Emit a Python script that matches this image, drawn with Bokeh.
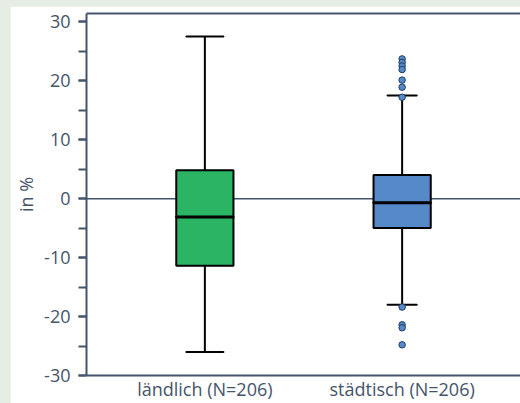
from bokeh.plotting import figure
from bokeh.models import Range1d, FactorRange, Span, LinearAxis, FixedTicker, ColumnDataSource, SingleIntervalTicker, PrintfTickFormatter
from bokeh.layouts import column
from bokeh.embed import file_html
from bokeh.resources import INLINE

# ---- data ----
categories = ["ländlich (N=206)", "städtisch (N=206)"]
q1 = [-11.4, -5.0]
median = [-3.1, -0.7]
q3 = [4.8, 4.0]
whisker_low = [-26.0, -18.0]
whisker_high = [27.5, 17.5]
outlier_cat = ["städtisch (N=206)"] * 11
outlier_val = [23.7, 23.1, 22.5, 21.9, 20.1, 18.9, 17.2, -18.4, -21.4, -21.9, -24.8]

# ---- styles ----
box_colors = ["#2bb463", "#5589c8"]
cap_widths = [0.19, 0.15]
BOX_W = 0.29
TXT = "#44546a"
FONT = "Open Sans"

p = figure(width=510, height=397, output_backend="svg", toolbar_location=None,
           x_range=FactorRange(factors=categories, range_padding=0.1),
           y_range=Range1d(-30, 31.4),
           min_border_left=76, min_border_right=0, min_border_top=7, min_border_bottom=27)
p.background_fill_color = "white"
p.border_fill_color = "white"
p.outline_line_color = None
p.grid.visible = False

src = ColumnDataSource(dict(cat=categories, q1=q1, med=median, q3=q3, lo=whisker_low, hi=whisker_high,
                            color=box_colors, capw=cap_widths))

p.add_layout(Span(location=0, dimension="width", line_color=TXT, line_width=1.5, level="underlay"))

p.segment(x0="cat", y0="q3", x1="cat", y1="hi", source=src, line_color="black", line_width=2)
p.segment(x0="cat", y0="lo", x1="cat", y1="q1", source=src, line_color="black", line_width=2)
p.vbar(x="cat", top="q3", bottom="q1", width=BOX_W, source=src, fill_color="color",
       line_color="black", line_width=2)
p.rect(x="cat", y="med", width=BOX_W, height=0.001, source=src, line_color="black", line_width=3, fill_alpha=0)
p.rect(x="cat", y="hi", width="capw", height=0.001, source=src, line_color="black", line_width=2)
p.rect(x="cat", y="lo", width="capw", height=0.001, source=src, line_color="black", line_width=2)
p.scatter(x=outlier_cat, y=outlier_val, size=6.5, fill_color="#5589c8", line_color="#1f3e66", line_width=1)

# y axis
ya = p.yaxis[0]
ya.ticker = SingleIntervalTicker(interval=10, num_minor_ticks=2)
ya.formatter = PrintfTickFormatter(format="%d")
ya.axis_label = "in %"
ya.axis_label_text_font = FONT
ya.axis_label_text_font_size = "18px"
ya.axis_label_text_font_style = "normal"
ya.axis_label_text_color = TXT
ya.axis_label_standoff = 3
ya.major_label_text_font = FONT
ya.major_label_text_font_size = "18px"
ya.major_label_text_color = TXT
ya.major_label_standoff = 8
ya.axis_line_color = TXT
ya.axis_line_width = 2
ya.major_tick_line_color = TXT
ya.minor_tick_line_color = TXT
ya.major_tick_line_width = 2
ya.minor_tick_line_width = 2
ya.major_tick_out = 8
ya.major_tick_in = 0
ya.minor_tick_out = 8
ya.minor_tick_in = 0

# x axis
xa = p.xaxis[0]
xa.major_label_text_font = FONT
xa.major_label_text_font_size = "18px"
xa.major_label_text_color = TXT
xa.major_label_standoff = 1
xa.axis_line_color = TXT
xa.axis_line_width = 2
xa.major_tick_line_color = None
xa.minor_tick_line_color = None
xa.major_tick_out = 0
xa.major_tick_in = 0
xa.minor_tick_out = 0
xa.minor_tick_in = 0

# top frame line
top = LinearAxis(ticker=FixedTicker(ticks=[]), major_label_text_font_size="0px",
                 major_label_standoff=0, major_tick_out=0, major_tick_in=0,
                 minor_tick_out=0, minor_tick_in=0,
                 axis_line_color=TXT, axis_line_width=2, major_tick_line_color=None, minor_tick_line_color=None)
p.add_layout(top, "above")

p.margin = (6, 0, 0, 10)
layout = column(p, styles={"background-color": "#e6ede2"}, width=520, height=403)

open("out.html", "w").write(file_html(layout, INLINE))
